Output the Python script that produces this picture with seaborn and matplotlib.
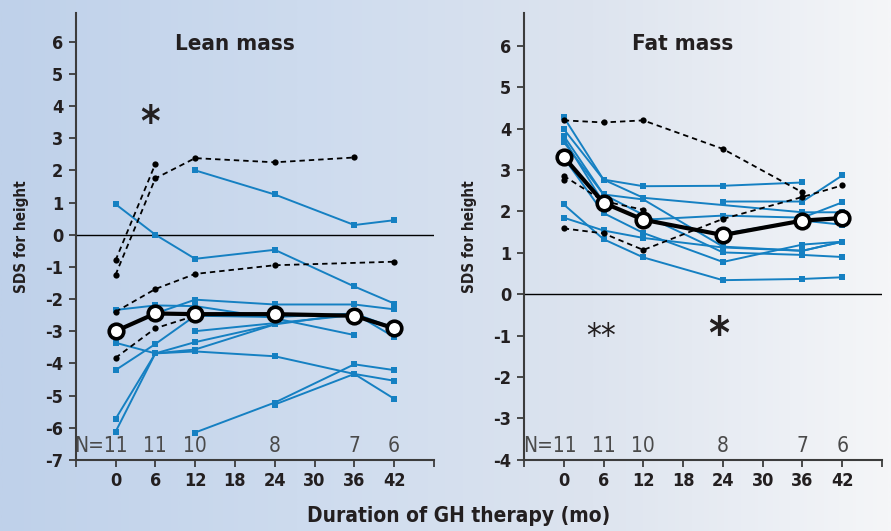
import numpy as np
import pandas as pd
import matplotlib
matplotlib.use("Agg")
import matplotlib.pyplot as plt
import seaborn as sns
from matplotlib.colors import LinearSegmentedColormap

# ==========================================================
# DATA (SDS for height)
# ==========================================================

months = [0, 6, 12, 24, 36, 42]
n_labels = ["N=11", "11", "10", "8", "7", "6"]
nan = np.nan

# ---- Lean mass ----
lean_blue = [
    [0.95, 0.0, -0.75, -0.47, -1.61, -2.14],
    [nan, nan, 2.0, 1.25, 0.3, 0.45],
    [-2.34, -2.2, -2.22, -2.6, -3.12, nan],
    [-3.0, -2.45, -2.02, -2.17, -2.17, -2.32],
    [-3.36, -3.69, -3.63, -3.78, -4.33, -4.54],
    [-4.21, -3.40, -2.52, -2.56, -2.45, -2.9],
    [-5.73, -3.69, -3.34, -2.79, -2.45, -3.18],
    [-6.13, -3.69, -3.57, -2.79, nan, nan],
    [nan, nan, -3.0, -2.75, -2.5, -2.9],
    [nan, nan, -6.15, -5.22, -4.03, -4.21],
    [nan, nan, nan, -5.28, -4.33, -5.1],
]
lean_dashed = [
    [-1.25, 1.75, 2.38, 2.25, 2.4, nan],
    [-0.8, 2.2, nan, nan, nan, nan],
    [-2.40, -1.69, -1.22, -0.95, nan, -0.84],
    [-3.83, -2.91, -2.52, nan, nan, nan],
]
lean_mean = [-3.0, -2.45, -2.47, -2.47, -2.52, -2.91]

# ---- Fat mass ----
fat_blue = [
    [4.28, 2.77, 2.61, 2.62, 2.70, nan],
    [3.99, 2.77, 2.33, nan, 1.98, 1.98],
    [3.83, 2.41, 2.29, 1.15, 1.05, 1.27],
    [3.75, 2.21, 1.80, 1.90, 1.85, 2.22],
    [3.68, 2.41, 1.92, 1.01, 0.95, 0.90],
    [3.30, 1.96, 1.48, 0.78, 1.20, 1.27],
    [2.17, 1.33, 0.89, 0.34, 0.37, 0.41],
    [1.85, 1.54, 1.36, 1.13, 1.05, 1.27],
    [nan, nan, nan, 2.24, 2.24, 2.87],
    [nan, nan, nan, 1.46, 1.78, 1.68],
]
fat_dashed = [
    [4.2, 4.15, 4.2, 3.51, 2.46, nan],
    [2.86, 2.25, 2.04, nan, nan, nan],
    [2.76, nan, nan, nan, nan, nan],
    [1.59, 1.47, 1.07, 1.82, 2.35, 2.63],
]
fat_mean = [3.32, 2.21, 1.80, 1.43, 1.78, 1.84]

# ==========================================================
# STYLE
# ==========================================================

sns.set_style("ticks")
plt.rcParams["font.family"] = ["DejaVu Sans"]
plt.rcParams["font.stretch"] = "condensed"
plt.rcParams["axes.unicode_minus"] = False

BLUE = "#1580c2"
DARK = "#231f20"
AXIS = "#3c3c3c"


def to_long(rows):
    recs = []
    for pid, row in enumerate(rows):
        for m, v in zip(months, row):
            recs.append({"month": m, "sds": v, "patient": pid})
    return pd.DataFrame(recs).dropna()


def draw_panel(ax, blue, dashed, mean, ylim, title, title_y):
    ax.set_facecolor("none")
    ax.axhline(0, color="black", lw=1.0, zorder=1)

    sns.lineplot(data=to_long(blue), x="month", y="sds", units="patient",
                 estimator=None, color=BLUE, lw=1.4, marker="s",
                 markersize=4.5, markeredgewidth=0, ax=ax, zorder=2)
    sns.lineplot(data=to_long(dashed), x="month", y="sds", units="patient",
                 estimator=None, color="black", lw=1.3, linestyle=(0, (3, 2.2)),
                 marker="o", markersize=4.5, markeredgewidth=0, ax=ax, zorder=3)
    mdf = pd.DataFrame({"month": months, "sds": mean})
    sns.lineplot(data=mdf, x="month", y="sds", color="black", lw=3.0,
                 marker="o", markersize=10.5, markerfacecolor="white",
                 markeredgecolor="black", markeredgewidth=2.6, ax=ax, zorder=5)

    ax.set_xlim(-6, 48)
    ax.set_ylim(*ylim)
    ax.set_xticks(range(-6, 49, 6))
    ax.set_xticklabels([""] + [str(m) for m in range(0, 43, 6)] + [""])
    ax.set_yticks(range(int(np.ceil(ylim[0])), 7))
    ax.set_xlabel("")
    ax.set_ylabel("SDS for height", fontsize=11, fontweight="bold",
                  color=DARK, labelpad=12)

    for lab in ax.get_xticklabels() + ax.get_yticklabels():
        lab.set_fontweight("bold")
        lab.set_fontsize(13)
        lab.set_color(DARK)
    ax.tick_params(axis="both", direction="out", length=5, width=1.3,
                   color=AXIS, pad=4)

    sns.despine(ax=ax)
    for side in ["left", "bottom"]:
        ax.spines[side].set_color(AXIS)
        ax.spines[side].set_linewidth(1.5)

    ax.text(18, title_y, title, ha="center", va="center", fontsize=16,
            fontweight="bold", color=DARK)

    # patient counts above the axis
    y_n = ylim[0] + 0.42 * (ylim[1] - ylim[0]) / 13.9
    for i, (m, lab) in enumerate(zip(months, n_labels)):
        if i == 0:
            ax.text(m + 1.9, y_n, lab, ha="right", va="center",
                    fontsize=15, color="#4a4a4a")
        else:
            ax.text(m, y_n, lab, ha="center", va="center",
                    fontsize=15, color="#4a4a4a")


# ==========================================================
# FIGURE
# ==========================================================

fig = plt.figure(figsize=(8.91, 5.31), dpi=100)

# soft blue-to-white background
bg = fig.add_axes([0, 0, 1, 1], zorder=-10)
cmap = LinearSegmentedColormap.from_list(
    "bg", ["#bfd1ea", "#cddbee", "#dde4ef", "#f5f6f8"])
bg.imshow(np.linspace(0, 1, 512)[None, :], aspect="auto", cmap=cmap,
          extent=[0, 1, 0, 1])
bg.axis("off")

ax1 = fig.add_axes([0.085, 0.134, 0.402, 0.842])
ax2 = fig.add_axes([0.588, 0.134, 0.402, 0.842])

draw_panel(ax1, lean_blue, lean_dashed, lean_mean, (-7, 6.9),
           "Lean mass", 5.93)
draw_panel(ax2, fat_blue, fat_dashed, fat_mean, (-4, 6.8),
           "Fat mass", 6.05)

# significance marks
ax1.text(5.2, 3.45, "*", ha="center", va="center", fontsize=30,
         fontweight="bold", color=DARK)
ax2.text(5.7, -1.05, "**", ha="center", va="center", fontsize=24,
         color=DARK)
ax2.text(23.4, -1.0, "*", ha="center", va="center", fontsize=32,
         fontweight="bold", color=DARK)

fig.text(0.515, 0.028, "Duration of GH therapy (mo)", ha="center",
         va="center", fontsize=15, fontweight="bold", color=DARK)

fig.savefig("out.png", dpi=100)
